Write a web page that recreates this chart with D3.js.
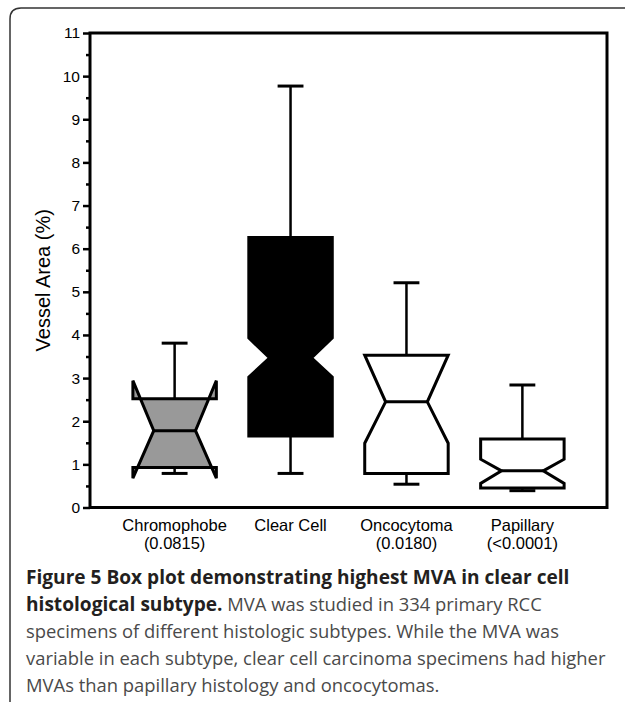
<html>
<head>
    <title>Vessel Area box plot</title>
    <script src="https://d3js.org/d3.v7.min.js"></script>
    <style>
        body { margin: 0; background: #fff; }
    </style>
</head>
<body>
    <svg width="625" height="702"></svg>

    <script>
        // values
        const categories = ["Chromophobe", "Clear Cell", "Oncocytoma", "Papillary"];
        const pLabels = ["(0.0815)", "", "(0.0180)", "(<0.0001)"];
        const whiskerLow = [0.79, 0.79, 0.54, 0.39];
        const q1 = [0.93, 1.66, 0.79, 0.45];
        const notchLow = [0.68, 3.02, 1.49, 0.56];
        const median = [1.78, 3.47, 2.45, 0.85];
        const notchHigh = [2.94, 3.93, 3.53, 1.12];
        const q3 = [2.52, 6.26, 3.53, 1.59];
        const whiskerHigh = [3.81, 9.77, 5.21, 2.84];
        const yTicks = d3.range(0, 12);
        const yMinorTicks = d3.range(0.5, 11, 1);

        const boxFill = ["#999999", "#000000", "#ffffff", "#ffffff"];

        const boxes = categories.map((c, i) => ({
            name: c, p: pLabels[i], fill: boxFill[i],
            wLo: whiskerLow[i], q1: q1[i], nLo: notchLow[i], med: median[i],
            nHi: notchHigh[i], q3: q3[i], wHi: whiskerHigh[i]
        }));

        const svg = d3.select('svg');
        const plotLeft = 90, plotRight = 607, plotTop = 33, plotBottom = 507.5;

        // outer figure frame
        svg.append('path')
            .attr('d', 'M10,702 L10,19 Q10,8 21,8 L625,8')
            .attr('fill', 'none')
            .attr('stroke', '#333')
            .attr('stroke-width', 1.5);

        const x = d3.scalePoint().domain(categories).range([plotLeft, plotRight]).padding(0.73);
        const y = d3.scaleLinear().domain([0, 11]).range([plotBottom, plotTop]);
        const boxW = x.step() * 0.72;
        const capW = boxW * 0.31;

        // y axis
        const yAxisG = svg.append('g')
            .attr('transform', `translate(${plotLeft},0)`)
            .call(d3.axisLeft(y).tickValues(yTicks).tickSize(7).tickPadding(3))
            .attr('font-family', 'Arial, "Liberation Sans", sans-serif')
            .attr('font-size', 15.5);
        yAxisG.select('.domain').remove();
        yAxisG.selectAll('.tick line').attr('stroke-width', 2.5);
        yAxisG.selectAll('.tick text').attr('fill', '#000');

        const yMinorG = svg.append('g')
            .attr('transform', `translate(${plotLeft},0)`)
            .call(d3.axisLeft(y).tickValues(yMinorTicks).tickSize(4).tickFormat(''));
        yMinorG.select('.domain').remove();
        yMinorG.selectAll('.tick line').attr('stroke-width', 2.5);

        svg.append('text')
            .attr('transform', `translate(43,${(plotTop + plotBottom) / 2 + 10}) rotate(-90)`)
            .attr('text-anchor', 'middle')
            .attr('dominant-baseline', 'central')
            .style('font-family', 'Arial, "Liberation Sans", sans-serif')
            .style('font-size', '20px')
            .text('Vessel Area (%)');

        // box plots
        const boxG = svg.append('g');
        boxes.forEach(d => {
            const cx = x(d.name);
            const l = cx - boxW / 2, r = cx + boxW / 2;
            const il = cx - boxW / 4, ir = cx + boxW / 4;
            const g = boxG.append('g');

            // whiskers
            g.append('line')
                .attr('x1', cx).attr('x2', cx)
                .attr('y1', y(d.q3)).attr('y2', y(d.wHi))
                .attr('stroke', '#000').attr('stroke-width', 2.5);
            g.append('line')
                .attr('x1', cx).attr('x2', cx)
                .attr('y1', y(d.q1)).attr('y2', y(d.wLo))
                .attr('stroke', '#000').attr('stroke-width', 2.5);

            // notched box
            const pts = [
                [l, y(d.q3)], [r, y(d.q3)], [r, y(d.nHi)], [ir, y(d.med)],
                [r, y(d.nLo)], [r, y(d.q1)], [l, y(d.q1)], [l, y(d.nLo)],
                [il, y(d.med)], [l, y(d.nHi)]
            ];
            g.append('path')
                .attr('d', 'M' + pts.map(p => p.join(',')).join('L') + 'Z')
                .attr('fill', d.fill)
                .attr('stroke', '#000')
                .attr('stroke-width', 3)
                .attr('stroke-linejoin', 'miter');
            g.append('line')
                .attr('x1', il).attr('x2', ir)
                .attr('y1', y(d.med)).attr('y2', y(d.med))
                .attr('stroke', '#000').attr('stroke-width', 3);

            // caps
            [d.wHi, d.wLo].forEach(v => {
                g.append('line')
                    .attr('x1', cx - capW / 2).attr('x2', cx + capW / 2)
                    .attr('y1', y(v)).attr('y2', y(v))
                    .attr('stroke', '#000').attr('stroke-width', 3);
            });
        });

        // plot frame
        svg.append('rect')
            .attr('x', plotLeft).attr('y', plotTop)
            .attr('width', plotRight - plotLeft).attr('height', plotBottom - plotTop)
            .attr('fill', 'none')
            .attr('stroke', '#000')
            .attr('stroke-width', 3);

        // category labels
        const xLab = svg.append('g')
            .style('font-family', 'Arial, "Liberation Sans", sans-serif')
            .style('font-size', '16.5px')
            .attr('text-anchor', 'middle');
        boxes.forEach(d => {
            xLab.append('text').attr('x', x(d.name)).attr('y', 531).text(d.name);
            xLab.append('text').attr('x', x(d.name)).attr('y', 549).text(d.p);
        });

        // caption
        const cap = svg.append('text')
            .style('font-family', '"Open Sans", sans-serif')
            .style('font-size', '18.4px')
            .attr('x', 26);
        cap.append('tspan').attr('x', 26).attr('y', 584)
            .attr('font-weight', 'bold').attr('fill', '#231f20')
            .style('font-size', '19.1px')
            .text('Figure 5 Box plot demonstrating highest MVA in clear cell');
        const l2 = cap.append('tspan').attr('x', 26).attr('y', 611);
        l2.append('tspan').attr('font-weight', 'bold').attr('fill', '#231f20')
            .style('font-size', '19.1px').text('histological subtype.');
        l2.append('tspan').attr('fill', '#4a4a4a').text(' MVA was studied in 334 primary RCC');
        cap.append('tspan').attr('x', 26).attr('y', 638).attr('fill', '#4a4a4a')
            .text('specimens of different histologic subtypes. While the MVA was');
        cap.append('tspan').attr('x', 26).attr('y', 665).attr('fill', '#4a4a4a')
            .text('variable in each subtype, clear cell carcinoma specimens had higher');
        cap.append('tspan').attr('x', 26).attr('y', 692).attr('fill', '#4a4a4a')
            .text('MVAs than papillary histology and oncocytomas.');
    </script>
</body>
</html>
